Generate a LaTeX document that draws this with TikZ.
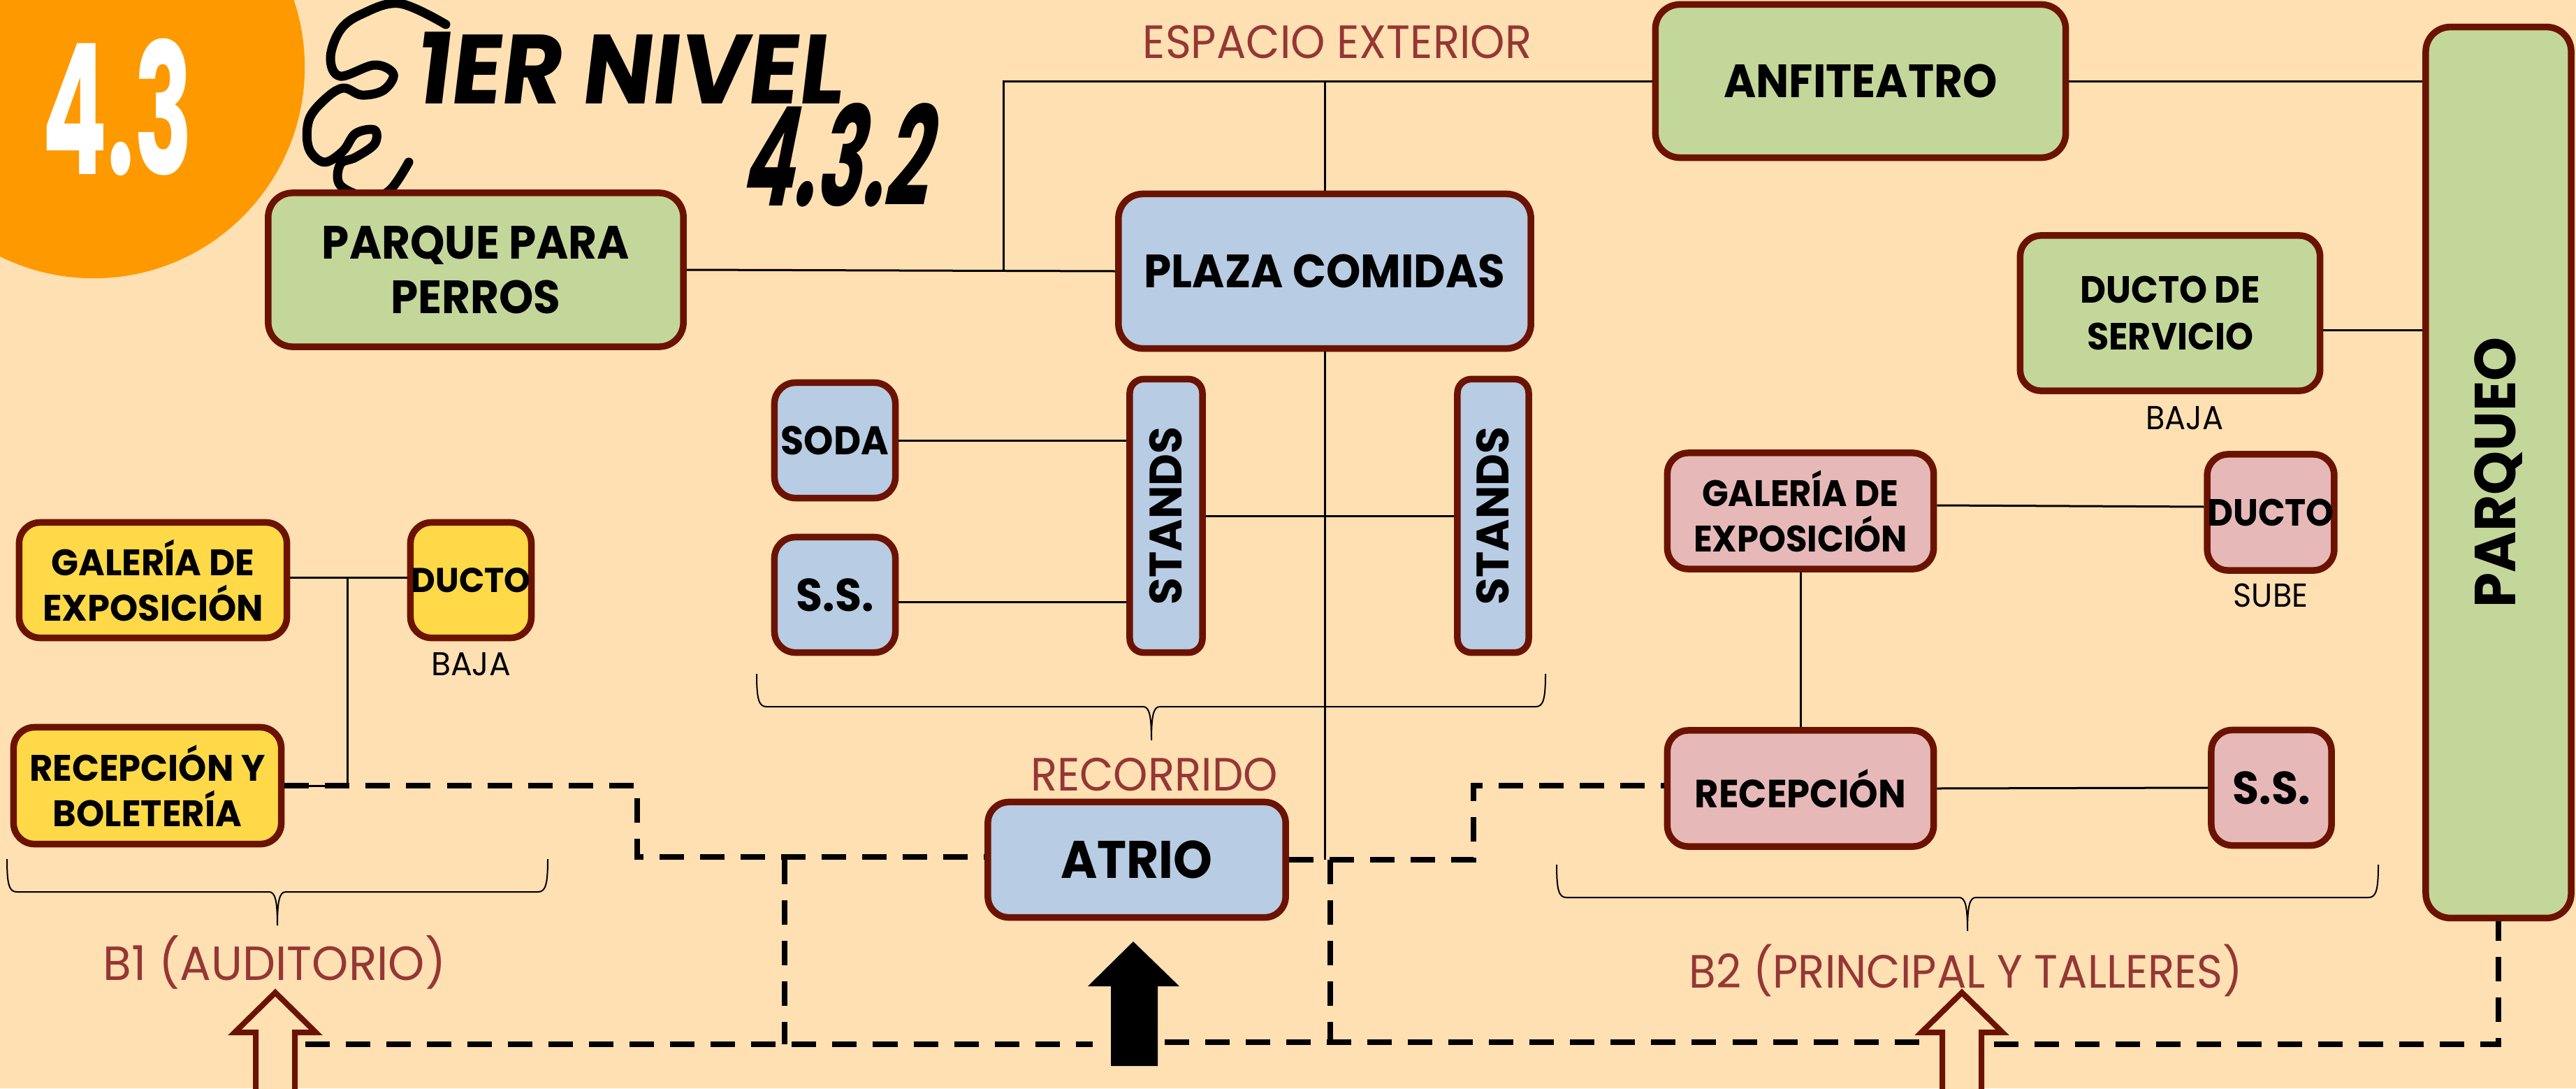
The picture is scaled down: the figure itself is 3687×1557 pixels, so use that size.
\documentclass[tikz,border=0pt]{standalone}
\usepackage{fontspec}
\usepackage{graphicx}
\setmainfont{Poppins}
\newfontfamily\gothic[FakeStretch=0.97]{Poppins}
\newfontfamily\twcen[FakeStretch=0.94]{Poppins}
\newfontfamily\hand[FakeStretch=0.95,FakeSlant=0.12]{Poppins}
\newfontfamily\narrowfont[FakeStretch=0.53]{Poppins}
\newfontfamily\narrowit[FakeStretch=0.56,FakeSlant=0.2]{Poppins}
\usepackage{tikz}
\usetikzlibrary{positioning}

\definecolor{fondo}{HTML}{FFE0B3}
\definecolor{naranja}{HTML}{FF9900}
\definecolor{verde}{HTML}{C4D79B}
\definecolor{azul}{HTML}{B8CCE4}
\definecolor{rosa}{HTML}{E6B9B8}
\definecolor{amarillo}{HTML}{FFD947}
\definecolor{borde}{HTML}{6B1300}
\definecolor{rotulo}{HTML}{953735}

\tikzset{
  caja/.style={draw=borde, line width=0.095cm, rounded corners=0.3cm, inner sep=0pt, align=center},
  verdebox/.style={caja, fill=verde},
  azulbox/.style={caja, fill=azul},
  rosabox/.style={caja, fill=rosa},
  amarillobox/.style={caja, fill=amarillo},
  tb/.style 2 args={font=\twcen\bfseries\fontsize{#1}{#2}\selectfont},
  gb/.style 2 args={font=\gothic\bfseries\fontsize{#1}{#2}\selectfont},
  rotulo/.style={text=rotulo, font=\twcen\fontsize{19}{21}\selectfont},
  nota/.style={font=\twcen\fontsize{13.5}{15}\selectfont},
  conn/.style={line width=0.03cm},
  walk/.style={line width=0.08cm, dash pattern=on 0.35cm off 0.23cm},
  hueca/.style={draw=borde, fill=fondo, line width=0.08cm, line join=miter}
}

\begin{document}
\begin{tikzpicture}[x=0.01cm, y=-0.01cm]
\fill[fondo] (0,0) rectangle (3687,1557);
\useasboundingbox (0,0) rectangle (3687,1557);
\begin{scope}
  \clip (0,0) rectangle (3687,1557);
  \fill[naranja] (134,96) circle (3.02cm);
\end{scope}

% titulo
\node[text=white, font=\narrowfont\bfseries\fontsize{74}{74}\selectfont] (num) at (168,153) {4.3};
\draw[line width=0.13cm, line cap=round, line join=round] plot[smooth, tension=0.6] coordinates {
  (638,35) (572,5) (518,20) (487,43) (473,83) (487,109) (536,93) (563,106) (549,129) (518,136) (491,126)
  (464,143) (442,172) (442,212) (464,232) (491,216) (509,191) (536,186) (536,206) (509,225) (487,235)
  (487,265) (527,282) (558,272) (585,232)};
\node[anchor=base west, font=\hand\bfseries\fontsize{40}{40}\selectfont] (nivel) at (580,148) {1ER NIVEL};
\node[font=\narrowit\bfseries\fontsize{56}{56}\selectfont] (sub) at (1192,222) {4.3.2};

% espacio exterior
\node[verdebox, tb={19}{22}, minimum width=5.94cm, minimum height=2.2cm, rounded corners=0.35cm] (parque) at (681,386) {PARQUE PARA\\PERROS};
\node[verdebox, tb={19}{22}, minimum width=5.87cm, minimum height=2.19cm, rounded corners=0.35cm] (anfi) at (2663,116) {ANFITEATRO};
\node[azulbox, tb={19}{22}, minimum width=5.9cm, minimum height=2.21cm, rounded corners=0.35cm] (plaza) at (1896,388) {PLAZA COMIDAS};
\node[verdebox, gb={23.5}{26}, minimum width=2.08cm, minimum height=12.74cm, rounded corners=0.35cm] (parqueo) at (3576,676) {\rotatebox{90}{PARQUEO}};
\node[verdebox, tb={15.4}{19}, minimum width=4.29cm, minimum height=2.22cm] (dserv) at (3106,448) {DUCTO DE\\SERVICIO};
\node[rotulo] (exterior) at (1914,60) {ESPACIO EXTERIOR};
\node[nota] (bajaS) at (3127,598) {BAJA};

% plaza de comidas
\node[azulbox, tb={16.3}{19}, minimum width=1.73cm, minimum height=1.65cm] (soda) at (1195,630) {SODA};
\node[azulbox, tb={18.7}{22}, minimum width=1.73cm, minimum height=1.65cm] (ssa) at (1195,851) {S.S.};
\node[azulbox, gb={18.5}{22}, minimum width=1.04cm, minimum height=3.91cm, rounded corners=0.2cm] (standsL) at (1669,738) {\rotatebox{90}{STANDS}};
\node[azulbox, gb={18.5}{22}, minimum width=1.02cm, minimum height=3.91cm, rounded corners=0.2cm] (standsR) at (2137,738) {\rotatebox{90}{STANDS}};

% B1
\node[amarillobox, gb={15}{18.5}, minimum width=3.83cm, minimum height=1.65cm] (galY) at (219,830) {GALERÍA DE\\EXPOSICIÓN};
\node[amarillobox, gb={14}{17}, minimum width=1.73cm, minimum height=1.65cm] (ductoY) at (674,830) {DUCTO};
\node[amarillobox, gb={15}{18.5}, minimum width=3.83cm, minimum height=1.67cm] (recY) at (211,1124) {RECEPCIÓN Y\\BOLETERÍA};
\node[nota, font=\gothic\fontsize{13.4}{15}\selectfont] (bajaY) at (674,950) {BAJA};

% atrio
\node[azulbox, tb={21.5}{24}, minimum width=4.26cm, minimum height=1.65cm] (atrio) at (1627,1230) {ATRIO};
\node[rotulo] (recorrido) at (1652,1108) {RECORRIDO};

% B2
\node[rosabox, tb={15}{18.5}, minimum width=3.81cm, minimum height=1.66cm] (galP) at (2577,731) {GALERÍA DE\\EXPOSICIÓN};
\node[rosabox, tb={15.4}{18}, minimum width=1.69cm, minimum height=1.66cm] (ductoP) at (3250,733) {DUCTO};
\node[rosabox, tb={16}{19}, minimum width=3.81cm, minimum height=1.66cm] (recP) at (2577,1128) {RECEPCIÓN};
\node[rosabox, tb={18.7}{22}, minimum width=1.72cm, minimum height=1.65cm] (ssP) at (3251,1127) {S.S.};
\node[nota] (sube) at (3250,852) {SUBE};

\node[rotulo, font=\gothic\fontsize{19.5}{24}\selectfont] (b1) at (393,1377) {B1 (AUDITORIO)};
\node[rotulo] (b2) at (2814,1388) {B2 (PRINCIPAL Y TALLERES)};

% conexiones
\coordinate (jp) at (1436,0);
\coordinate (jy) at (497,0);
\draw[conn] (parque.east) -- (plaza.west);
\draw[conn] (parque.east -| jp) |- (anfi.west);
\draw[conn] (plaza.north) -- (plaza.north |- anfi.west);
\draw[conn] (anfi.east) -- (anfi.east -| parqueo.west);
\draw[conn] ([yshift=-0.24cm]dserv.east) -- ([yshift=-0.24cm]dserv.east -| parqueo.west);
\draw[conn] (soda.east) -- (soda.east -| standsL.west);
\draw[conn] ([yshift=-0.1cm]ssa.east) -- ([yshift=-0.1cm]ssa.east -| standsL.west);
\draw[conn] (standsL.east) -- (standsR.west);
\draw[conn] (plaza.south) -- (plaza.south |- atrio.east);
\draw[conn] ([yshift=0.04cm]galY.east) -- ([yshift=0.04cm]ductoY.west);
\draw[conn] ([yshift=0.04cm]galY.east -| jy) -- (recY.east -| jy) -- (recY.east);
\draw[conn] ([yshift=0.08cm]galP.east) -- ([yshift=0.08cm]ductoP.west);
\draw[conn] (galP.south) -- (recP.north);
\draw[conn] (recP.east) -- (ssP.west);

% llaves
\foreach \xa/\xm/\xb/\yt in {10/397/784/1229, 1083/1648/2212/964, 2228/2816/3404/1237}
  \draw[conn, line width=0.02cm] (\xa,\yt) .. controls (\xa,\yt+36) and (\xa+3,\yt+47) .. (\xa+14,\yt+47)
    -- (\xm-12,\yt+47) .. controls (\xm-3,\yt+47) and (\xm,\yt+60) .. (\xm,\yt+95)
    .. controls (\xm,\yt+60) and (\xm+3,\yt+47) .. (\xm+12,\yt+47)
    -- (\xb-14,\yt+47) .. controls (\xb-3,\yt+47) and (\xb,\yt+36) .. (\xb,\yt);

% recorrido
\coordinate (d1) at (912,1226);
\coordinate (d2) at (1123,1494);
\coordinate (d3) at (2109,1124);
\coordinate (d4) at (1904,1491);
\draw[walk] (recY.east) -| (d1) -- (d1 -| atrio.west);
\draw[walk] (d2 |- atrio.west) -- (d2);
\draw[walk] (atrio.east) -| (d3) -- (d3 -| recP.west);
\draw[walk] (d4 |- atrio.east) -- (d4);
\draw[walk] (437,1494) -- (1564,1494);
\draw[walk] (1667,1491) -- (2769,1491);
\draw[walk] (2854,1494) -| (parqueo.south);

% accesos
\fill (1590,1525) -- (1590,1411) -- (1557,1411) -- (1622,1347) -- (1688,1411) -- (1657,1411) -- (1657,1525) -- cycle;
\foreach \cx in {394, 2808}
  \draw[hueca] (\cx-28,1600) -- (\cx-28,1477) -- (\cx-58,1477) -- (\cx,1420) -- (\cx+58,1477) -- (\cx+28,1477) -- (\cx+28,1600) -- cycle;
\end{tikzpicture}
\end{document}
